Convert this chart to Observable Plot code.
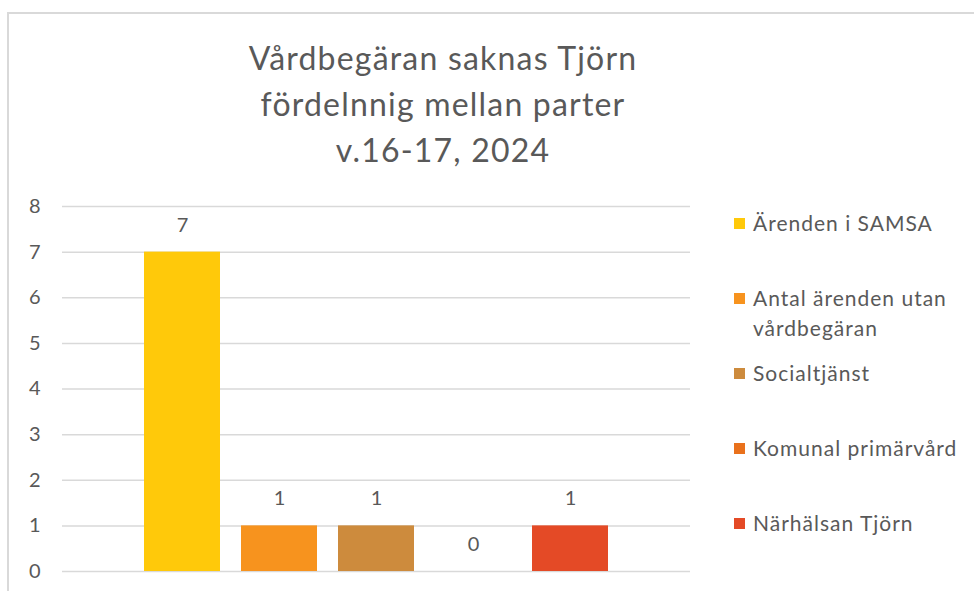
<!DOCTYPE html>
<html>
<head>
<meta charset="utf-8">
<script src="https://cdn.jsdelivr.net/npm/d3@7"></script>
<script src="https://cdn.jsdelivr.net/npm/@observablehq/plot@0.6"></script>
<style>
  html, body { margin: 0; padding: 0; background: #fff; width: 974px; height: 591px; overflow: hidden; }
  body { font-family: Lato, "Open Sans", sans-serif; color: #595959; position: relative; }
  #frame { position: absolute; left: 7px; top: 12px; width: 1000px; height: 620px; border-left: 2px solid #d9d9d9; border-top: 2px solid #d9d9d9; box-sizing: border-box; }
  #title { position: absolute; left: 193px; width: 500px; top: 35px; text-align: center; font-size: 32px; letter-spacing: 1.2px; line-height: 46px; color: #595959; }
  #chart { position: absolute; left: 0; top: 180px; }
  #legend { position: absolute; left: 734px; top: 0; font-size: 21px; letter-spacing: 1px; color: #595959; }
  .item { position: absolute; left: 0; white-space: nowrap; line-height: 30px; }
  .sw { display: inline-block; width: 11px; height: 11px; margin-right: 8px; vertical-align: middle; position: relative; top: -2px; }
</style>
</head>
<body>
<div id="frame"></div>
<div id="title"></div>
<div id="chart"></div>
<div id="legend"></div>
<script>
const titleLines = ["Vårdbegäran saknas Tjörn", "fördelnnig mellan parter", "v.16-17, 2024"];
const categories = ["Ärenden i SAMSA", "Antal ärenden utan vårdbegäran", "Socialtjänst", "Komunal primärvård", "Närhälsan Tjörn"];
const legendLines = [["Ärenden i SAMSA"], ["Antal ärenden utan", "vårdbegäran"], ["Socialtjänst"], ["Komunal primärvård"], ["Närhälsan Tjörn"]];
const values = [7, 1, 1, 0, 1];
const colors = ["#FFC90A", "#F7931E", "#CD8B3D", "#E9711C", "#E44A26"];
const yTicks = [0, 1, 2, 3, 4, 5, 6, 7, 8];

document.getElementById("title").innerHTML = titleLines.map(t => `<div>${t}</div>`).join("");

const data = categories.map((c, i) => ({category: c, value: values[i]}));

const chart = Plot.plot({
  width: 974,
  height: 411,
  marginTop: 26,
  marginBottom: 20,
  marginLeft: 62,
  marginRight: 284,
  style: {fontFamily: "Lato, 'Open Sans', sans-serif", color: "#595959", background: "transparent"},
  x: {domain: categories, range: [133.5, 618.5], paddingInner: 0.22, paddingOuter: 0.11, axis: null},
  y: {domain: [0, 8], axis: null},
  color: {domain: categories, range: colors},
  marks: [
    Plot.ruleY(yTicks, {y: d => d, stroke: "#d9d9d9", strokeWidth: 1.5}),
    Plot.axisY({ticks: yTicks, tickSize: 0, tickPadding: 22, fontSize: 20, fill: "#595959", label: null}),
    Plot.barY(data, {x: "category", y: "value", fill: "category"}),
    Plot.text(data, {x: "category", y: "value", text: d => String(d.value), dy: -27, fontSize: 20, fill: "#595959"})
  ]
});
document.getElementById("chart").appendChild(chart);

const legendTops = [208, 283, 358, 433, 508];
const legend = document.getElementById("legend");
legendLines.forEach((lines, i) => {
  const el = document.createElement("div");
  el.className = "item";
  el.style.top = legendTops[i] + "px";
  el.innerHTML = `<span class="sw" style="background:${colors[i]}"></span>${lines[0]}` +
    (lines[1] ? `<br><span style="padding-left:19px">${lines[1]}</span>` : "");
  legend.appendChild(el);
});
</script>
</body>
</html>
